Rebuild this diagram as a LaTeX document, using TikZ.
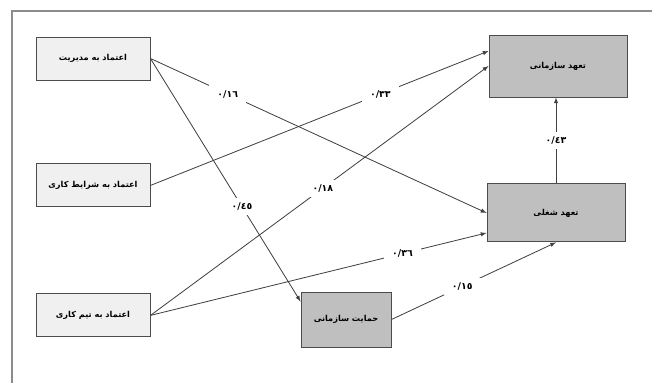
\documentclass[tikz,border=0pt]{standalone}
\usepackage{fontspec}
\usetikzlibrary{positioning}
\newfontfamily\farsi[Script=Arabic]{DejaVu Sans}
\newfontfamily\farsinum{DejaVu Sans}
\TeXXeTstate=1
\newcommand{\fa}[1]{{\farsi\bfseries\beginR #1\endR}}

\begin{document}
\begin{tikzpicture}[x=0.03cm,y=-0.03cm,
    insty/.style={minimum width=3.42cm,minimum height=1.29cm,draw=black!70,
      fill=black!6,line width=0.8pt,font=\fontsize{7}{8}\selectfont},
    outsty/.style={minimum width=4.14cm,draw=black!70,fill=black!25,
      line width=0.8pt,font=\fontsize{7}{8}\selectfont},
    coefsty/.style={fill=white,inner xsep=7pt,inner ysep=4pt,
      font=\farsinum\bfseries\fontsize{8}{9}\selectfont},
    pathsty/.style={->,>=latex,draw=black!75,line width=0.7pt}]
    \useasboundingbox (0,0) rectangle (652,383);
    \draw[black!45,line width=1pt] (12,383) -- (12,11) -- (652,11);

    % متغیرهای مستقل
    \node[insty] (mgmt) at (93,58.5) {\fa{اعتماد به مدیریت}};
    \node[insty,below=2.49cm of mgmt] (cond) {\fa{اعتماد به شرایط کاری}};
    \node[insty,below=2.58cm of cond] (team) {\fa{اعتماد به تیم کاری}};

    % متغیرهای وابسته
    \node[outsty,minimum height=1.86cm] (orgc) at (558,66) {\fa{تعهد سازمانی}};
    \node[outsty,minimum height=1.74cm,below=2.58cm of orgc,xshift=-0.06cm] (jobc) {\fa{تعهد شغلی}};
    \node[outsty,minimum width=2.7cm,minimum height=1.65cm] (supp) at (346,319.5) {\fa{حمایت سازمانی}};

    % مسیرها
    \draw[pathsty] (mgmt.east) -- node[coefsty,pos=.23] {٠/١٦} (jobc.west);
    \draw[pathsty] (mgmt.east) -- node[coefsty,pos=.61] {٠/٤٥} ([yshift=-0.3cm]supp.north west);
    \draw[pathsty] (cond.east) -- node[coefsty,pos=.68] {٠/٣٣} ([yshift=0.45cm]orgc.west);
    \draw[pathsty] (team.east) -- node[coefsty,pos=.51] {٠/١٨} (orgc.west);
    \draw[pathsty] (team.east) -- node[coefsty,pos=.75] {٠/٣٦} ([yshift=-0.6cm]jobc.west);
    \draw[pathsty] (supp.east) -- node[coefsty,pos=.43] {٠/١٥} (jobc.south);
    \draw[pathsty] (jobc.north) -- node[coefsty,pos=.5] {٠/٤٣} (jobc.north |- orgc.south);
\end{tikzpicture}
\end{document}
